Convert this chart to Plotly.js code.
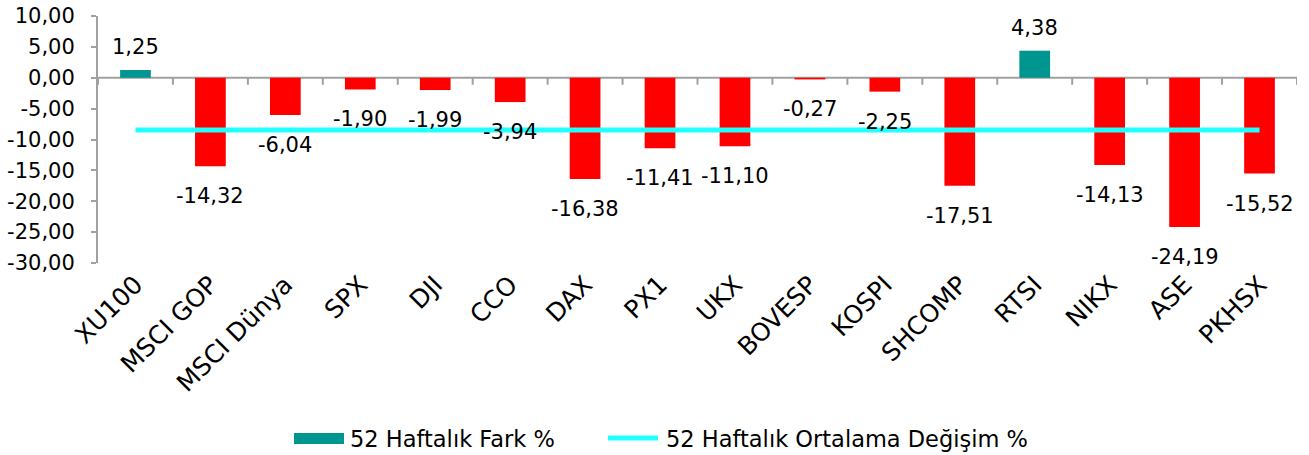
<!DOCTYPE html>
<html>
<head>
<meta charset="utf-8">
<script src="https://cdn.plot.ly/plotly-3.0.1.min.js"></script>
<style>html,body{margin:0;padding:0;background:#fff;}#chart{width:1309px;height:455px;}</style>
</head>
<body>
<div id="chart"></div>
<script>
const categories = ["XU100","MSCI GOP","MSCI Dünya","SPX","DJI","CCO","DAX","PX1","UKX","BOVESP","KOSPI","SHCOMP","RTSI","NIKX","ASE","PKHSX"];
const farkValues = [1.25,-14.32,-6.04,-1.90,-1.99,-3.94,-16.38,-11.41,-11.10,-0.27,-2.25,-17.51,4.38,-14.13,-24.19,-15.52];
const ortalamaValues = [-8.46,-8.46,-8.46,-8.46,-8.46,-8.46,-8.46,-8.46,-8.46,-8.46,-8.46,-8.46,-8.46,-8.46,-8.46,-8.46];
const yTickVals = [10,5,0,-5,-10,-15,-20,-25,-30];
const seriesNames = ["52 Haftalık Fark %","52 Haftalık Ortalama Değişim %"];

const TEAL = "#00968F", RED = "#FF0000", CYAN = "#22FFFF", AXIS = "#A0A0A0";
const FONT = "DejaVu Sans, sans-serif";

const fmt = v => v.toFixed(2).replace(".", ",");

const barTrace = {
  type: "bar", x: categories, y: farkValues, name: seriesNames[0],
  marker: {color: farkValues.map(v => v >= 0 ? TEAL : RED)},
  width: 0.41, hoverinfo: "x+y", showlegend: false
};
const lineTrace = {
  type: "scatter", mode: "lines", x: categories, y: ortalamaValues, name: seriesNames[1],
  line: {color: CYAN, width: 5, shape: "linear"}, showlegend: false
};

const annotations = categories.map((c, i) => ({
  x: c, y: farkValues[i], xref: "x", yref: "y",
  text: fmt(farkValues[i]), showarrow: false,
  yanchor: "middle", xanchor: "center",
  yshift: farkValues[i] >= 0 ? 23 : -30,
  font: {family: FONT, size: 21, color: "#000"}
}));

// custom legend
const L = 98, W = 1199, T = 16, H = 247;
const px = x => (x - L) / W;
const py = y => (T + H - y) / H;
annotations.push(
  {xref: "paper", yref: "paper", x: px(348), y: py(439), xanchor: "left", yanchor: "middle",
   text: seriesNames[0], showarrow: false, font: {family: FONT, size: 22.5, color: "#000"}},
  {xref: "paper", yref: "paper", x: px(664), y: py(439), xanchor: "left", yanchor: "middle",
   text: seriesNames[1], showarrow: false, font: {family: FONT, size: 22.5, color: "#000"}}
);

const shapes = [
  {type: "line", xref: "paper", yref: "y", x0: 0, x1: 1, y0: 0, y1: 0, line: {color: AXIS, width: 2}, layer: "below"}
];
for (let i = 0; i <= categories.length; i++) {
  shapes.push({type: "line", xref: "x", yref: "y", ysizemode: "pixel", yanchor: 0,
    x0: i - 0.5, x1: i - 0.5, y0: 0, y1: -7, line: {color: AXIS, width: 2}});
}
shapes.push(
  {type: "rect", xref: "paper", yref: "paper", x0: px(294), x1: px(344), y0: py(444), y1: py(433),
   fillcolor: TEAL, line: {width: 0}},
  {type: "line", xref: "paper", yref: "paper", x0: px(608), x1: px(658), y0: py(438), y1: py(438),
   line: {color: CYAN, width: 5}}
);

const layout = {
  width: 1309, height: 455,
  margin: {l: 98, r: 12, t: 16, b: 192},
  paper_bgcolor: "#fff", plot_bgcolor: "#fff",
  separators: ", ",
  showlegend: false,
  xaxis: {
    type: "category", range: [-0.5, 15.5], showline: false, showgrid: false, zeroline: false,
    ticks: "", tickangle: -45, tickfont: {family: FONT, size: 25, color: "#000"},
    ticklabelstandoff: 1, fixedrange: true
  },
  yaxis: {
    range: [-30, 10], tickvals: yTickVals, ticktext: yTickVals.map(fmt),
    showline: true, linecolor: AXIS, linewidth: 2, ticks: "outside", ticklen: 5, tickcolor: AXIS, tickwidth: 2,
    showgrid: false, zeroline: false, tickfont: {family: FONT, size: 21, color: "#000"},
    ticklabelstandoff: 12, fixedrange: true
  },
  annotations: annotations,
  shapes: shapes
};

Plotly.newPlot("chart", [barTrace, lineTrace], layout, {displayModeBar: false, staticPlot: true});
</script>
</body>
</html>
